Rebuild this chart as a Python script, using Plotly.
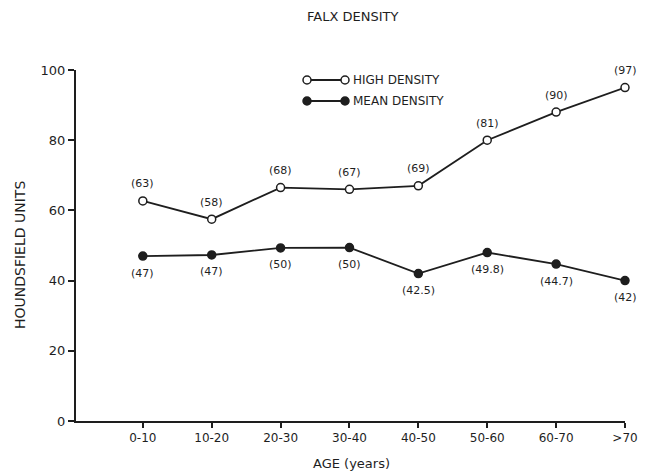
import plotly.graph_objects as go

ages = ["0-10", "10-20", "20-30", "30-40", "40-50", "50-60", "60-70", ">70"]
high_density = [62.7, 57.5, 66.5, 66, 67, 80, 88, 95]
mean_density = [47, 47.3, 49.3, 49.4, 42, 48, 44.7, 40]
high_labels = ["(63)", "(58)", "(68)", "(67)", "(69)", "(81)", "(90)", "(97)"]
mean_labels = ["(47)", "(47)", "(50)", "(50)", "(42.5)", "(49.8)", "(44.7)", "(42)"]
y_ticks = [0, 20, 40, 60, 80, 100]

INK = "#1e1e1e"
FONT = "DejaVu Sans"

fig = go.Figure()
fig.add_trace(go.Scatter(
    x=ages, y=high_density, mode="lines+markers",
    line=dict(color=INK, width=1.8),
    marker=dict(symbol="circle", size=8, color="white", line=dict(color=INK, width=1.5)),
    cliponaxis=False, showlegend=False, name="HIGH DENSITY"))
fig.add_trace(go.Scatter(
    x=ages, y=mean_density, mode="lines+markers",
    line=dict(color=INK, width=1.8),
    marker=dict(symbol="circle", size=8, color=INK, line=dict(color=INK, width=1.5)),
    cliponaxis=False, showlegend=False, name="MEAN DENSITY"))

annotations = []
# value labels, drawn through the data axes
for a, v, t in zip(ages, high_density, high_labels):
    annotations.append(dict(x=a, y=v, xref="x", yref="y", text=t, showarrow=False,
                            yshift=17, yanchor="middle",
                            font=dict(family=FONT, size=11, color=INK)))
for a, v, t in zip(ages, mean_density, mean_labels):
    annotations.append(dict(x=a, y=v, xref="x", yref="y", text=t, showarrow=False,
                            yshift=-17, yanchor="middle",
                            font=dict(family=FONT, size=11, color=INK)))

# custom legend (line with a marker at both ends)
shapes = []
plot_w = 649 - 76 - 24
plot_h = 475 - 70 - 54
for i, (lab, fill) in enumerate([("HIGH DENSITY", "white"), ("MEAN DENSITY", INK)]):
    ypix = 80 + i * 21
    yy = (475 - 54 - ypix) / plot_h
    x0 = (307 - 76) / plot_w
    x1 = (345 - 76) / plot_w
    rx = 4 / plot_w
    ry = 4 / plot_h
    shapes.append(dict(type="line", xref="paper", yref="paper", x0=x0, x1=x1, y0=yy, y1=yy,
                       line=dict(color=INK, width=1.8)))
    for xc in (x0, x1):
        shapes.append(dict(type="circle", xref="paper", yref="paper",
                           x0=xc - rx, x1=xc + rx, y0=yy - ry, y1=yy + ry,
                           fillcolor=fill, line=dict(color=INK, width=1.5)))
    annotations.append(dict(text=lab, xref="paper", yref="paper", x=(351 - 76) / plot_w, y=yy,
                            xanchor="left", yanchor="middle", showarrow=False,
                            font=dict(family=FONT, size=12, color=INK)))

annotations.append(dict(text="FALX DENSITY", xref="paper", yref="paper",
                        x=(352 - 76) / plot_w, y=(475 - 54 - 17) / plot_h,
                        xanchor="center", yanchor="middle", showarrow=False,
                        font=dict(family=FONT, size=13, color=INK)))
annotations.append(dict(text="AGE (years)", xref="paper", yref="paper",
                        x=(351 - 76) / plot_w, y=(475 - 54 - 463) / plot_h,
                        xanchor="center", yanchor="middle", showarrow=False,
                        font=dict(family=FONT, size=13, color=INK)))
annotations.append(dict(text="HOUNDSFIELD UNITS", xref="paper", yref="paper",
                        x=(20 - 76) / plot_w, y=(475 - 54 - 255) / plot_h, textangle=-90,
                        xanchor="center", yanchor="middle", showarrow=False,
                        font=dict(family=FONT, size=14, color=INK)))

fig.update_layout(
    width=649, height=475,
    margin=dict(l=76, r=24, t=70, b=54),
    paper_bgcolor="white", plot_bgcolor="white",
    shapes=shapes, annotations=annotations,
    xaxis=dict(type="category", range=[-0.97, 7.0], showline=True, linecolor=INK, linewidth=2,
               ticks="outside", ticklen=5, tickwidth=1.5, tickcolor=INK, showgrid=False,
               zeroline=False, automargin=False,
               tickfont=dict(family=FONT, size=12, color=INK)),
    yaxis=dict(range=[0, 100], tickvals=y_ticks, showline=True, linecolor=INK, linewidth=2,
               ticks="outside", ticklen=6, tickwidth=1.5, tickcolor=INK, showgrid=False,
               zeroline=False, automargin=False,
               tickfont=dict(family=FONT, size=13, color=INK)),
)

fig.write_html("out.html", config={"displayModeBar": False},
               post_script="document.body.style.margin='0';document.body.style.overflow='hidden';")
